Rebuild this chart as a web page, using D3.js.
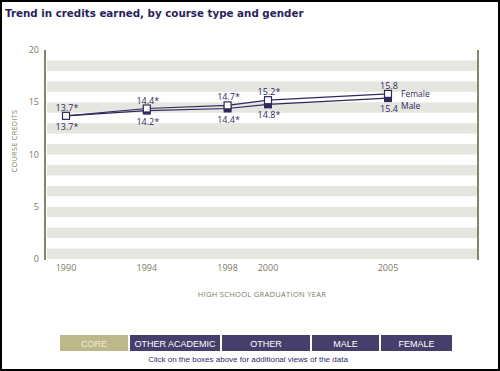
<!DOCTYPE html>
<html>
<head>
<meta charset="utf-8">
<script src="https://cdn.jsdelivr.net/npm/d3@7"></script>
<style>
  body { margin: 0; background: #fff; }
  svg { display: block; }
</style>
</head>
<body>
<svg id="chart" width="500" height="371"></svg>
<script>
// values
const years = [1990, 1994, 1998, 2000, 2005];
const female = [13.7, 14.4, 14.7, 15.2, 15.8];
const male = [13.7, 14.2, 14.4, 14.8, 15.4];
const femaleLabels = ["13.7*", "14.4*", "14.7*", "15.2*", "15.8"];
const maleLabels = ["13.7*", "14.2*", "14.4*", "14.8*", "15.4"];
const yTicks = [0, 5, 10, 15, 20];
const buttons = ["CORE", "OTHER ACADEMIC", "OTHER", "MALE", "FEMALE"];
const buttonWidths = [68, 90, 88, 67, 71];

const navy = "#2f2a5e";
const olive = "#5d5c3c";
const tickCol = "#7a7a62";

const svg = d3.select("#chart");

// frame
svg.append("rect")
  .attr("x", 1).attr("y", 1).attr("width", 498).attr("height", 369)
  .attr("fill", "none").attr("stroke", "#000").attr("stroke-width", 2);

svg.append("text")
  .attr("x", 5).attr("y", 17)
  .attr("font-family", "Verdana, 'DejaVu Sans', sans-serif")
  .attr("font-size", 10.3).attr("font-weight", "bold")
  .attr("fill", "#2a1f5c")
  .text("Trend in credits earned, by course type and gender");

const plotL = 46, plotR = 477, plotT = 50, plotB = 259;

const x = d3.scaleLinear().domain([1990, 2000, 2005]).range([66, 268, 388]);
const y = d3.scaleLinear().domain([0, 20]).range([plotB, plotT]);

// striped background, one unit per band
const bands = d3.range(0, 20, 2);
svg.append("g").selectAll("rect")
  .data(bands)
  .enter()
  .append("rect")
  .attr("x", plotL + 1)
  .attr("width", plotR - plotL - 1)
  .attr("y", d => y(d + 1))
  .attr("height", d => y(d) - y(d + 1))
  .attr("fill", "#e6e6e0");

// axis lines
svg.append("line").attr("x1", 45).attr("x2", 45).attr("y1", plotT).attr("y2", plotB + 1)
  .attr("stroke", olive).attr("stroke-width", 1.5);
svg.append("line").attr("x1", 478).attr("x2", 478).attr("y1", plotT).attr("y2", plotB + 1)
  .attr("stroke", olive).attr("stroke-width", 1.5);

// y tick labels
svg.append("g").selectAll("text")
  .data(yTicks)
  .enter()
  .append("text")
  .attr("x", 39)
  .attr("y", d => y(d) + 3)
  .attr("text-anchor", "end")
  .attr("font-family", "'Open Sans', sans-serif")
  .attr("font-size", 9)
  .attr("fill", tickCol)
  .text(d => d);

svg.append("text")
  .attr("transform", "translate(17,141) rotate(-90)")
  .attr("text-anchor", "middle")
  .attr("font-family", "'Open Sans', sans-serif")
  .attr("font-size", 7.3)
  .attr("letter-spacing", 0.3)
  .attr("fill", tickCol)
  .text("COURSE CREDITS");

// x tick labels
svg.append("g").selectAll("text")
  .data(years)
  .enter()
  .append("text")
  .attr("x", d => x(d))
  .attr("y", 271)
  .attr("text-anchor", "middle")
  .attr("font-family", "'Open Sans', sans-serif")
  .attr("font-size", 9)
  .attr("fill", tickCol)
  .text(d => d);

svg.append("text")
  .attr("x", 262).attr("y", 297)
  .attr("text-anchor", "middle")
  .attr("font-family", "'Open Sans', sans-serif")
  .attr("font-size", 7.5)
  .attr("letter-spacing", 0.3)
  .attr("fill", tickCol)
  .text("HIGH SCHOOL GRADUATION YEAR");

// lines
const line = d3.line().x((d, i) => x(years[i])).y(d => y(d));

svg.append("path").datum(male)
  .attr("d", line).attr("fill", "none")
  .attr("stroke", navy).attr("stroke-width", 1.2);
svg.append("path").datum(female)
  .attr("d", line).attr("fill", "none")
  .attr("stroke", navy).attr("stroke-width", 1.2);

// markers
svg.append("g").selectAll("rect")
  .data(male)
  .enter()
  .append("rect")
  .attr("x", (d, i) => x(years[i]) - 4)
  .attr("y", d => y(d) - 3)
  .attr("width", 8).attr("height", 7)
  .attr("fill", navy);

svg.append("g").selectAll("rect")
  .data(female)
  .enter()
  .append("rect")
  .attr("x", (d, i) => x(years[i]) - 3.5)
  .attr("y", d => y(d) - 3.5)
  .attr("width", 7).attr("height", 7)
  .attr("fill", "#fff")
  .attr("stroke", navy).attr("stroke-width", 1.2);

// value labels
svg.append("g").selectAll("text")
  .data(female)
  .enter()
  .append("text")
  .attr("x", (d, i) => x(years[i]) + 1)
  .attr("y", d => y(d) - 5)
  .attr("text-anchor", "middle")
  .attr("font-family", "'Open Sans', sans-serif")
  .attr("font-size", 9)
  .attr("fill", navy)
  .text((d, i) => femaleLabels[i]);

svg.append("g").selectAll("text")
  .data(male)
  .enter()
  .append("text")
  .attr("x", (d, i) => x(years[i]) + 1)
  .attr("y", d => y(d) + 14)
  .attr("text-anchor", "middle")
  .attr("font-family", "'Open Sans', sans-serif")
  .attr("font-size", 9)
  .attr("fill", navy)
  .text((d, i) => maleLabels[i]);

const last = years.length - 1;
svg.append("text")
  .attr("x", x(years[last]) + 13).attr("y", y(female[last]) + 3)
  .attr("font-family", "'Open Sans', sans-serif")
  .attr("font-size", 8.5).attr("fill", navy)
  .text("Female");
svg.append("text")
  .attr("x", x(years[last]) + 13).attr("y", y(male[last]) + 11)
  .attr("font-family", "'Open Sans', sans-serif")
  .attr("font-size", 8.5).attr("fill", navy)
  .text("Male");

// buttons
let bx = 60;
const btnData = buttons.map((b, i) => {
  const r = { name: b, x: bx, w: buttonWidths[i] };
  bx += buttonWidths[i] + 2;
  return r;
});

const btn = svg.append("g").selectAll("g")
  .data(btnData)
  .enter()
  .append("g");

btn.append("rect")
  .attr("x", d => d.x).attr("y", 335)
  .attr("width", d => d.w).attr("height", 16)
  .attr("fill", (d, i) => i == 0 ? "#bdb88a" : "#463f6b");

btn.append("text")
  .attr("x", d => d.x + d.w / 2).attr("y", 347)
  .attr("text-anchor", "middle")
  .attr("font-family", "Arial, 'Liberation Sans', sans-serif")
  .attr("font-size", 9)
  .attr("fill", (d, i) => i == 0 ? "#eeebd8" : "#fff")
  .text(d => d.name);

svg.append("text")
  .attr("x", 248).attr("y", 362)
  .attr("text-anchor", "middle")
  .attr("font-family", "Arial, 'Liberation Sans', sans-serif")
  .attr("font-size", 8)
  .attr("fill", "#2f2a6e")
  .text("Click on the boxes above for additional views of the data");
</script>
</body>
</html>
